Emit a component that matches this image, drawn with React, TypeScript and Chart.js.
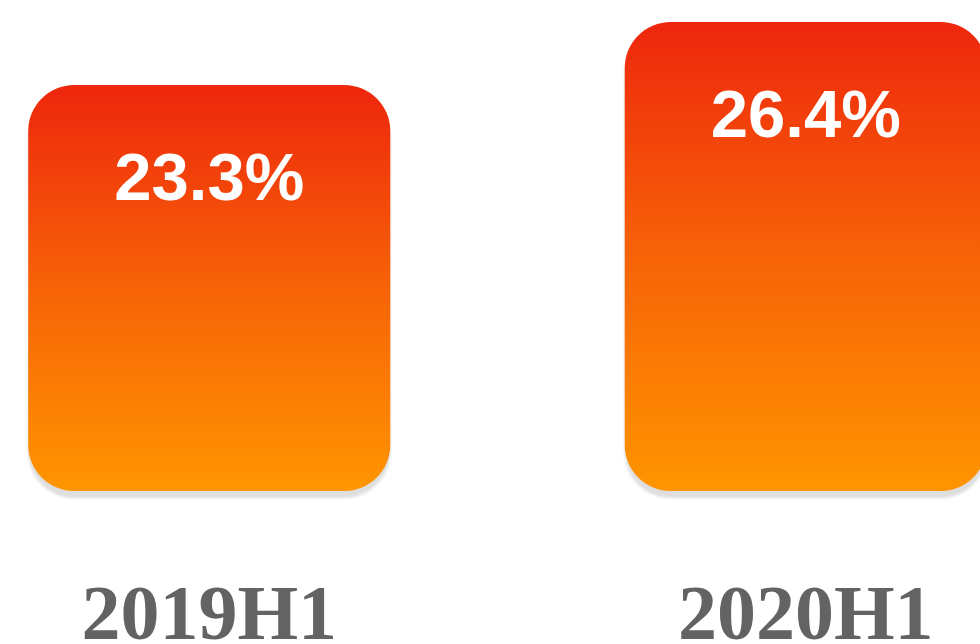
import React, { useEffect, useRef } from "react";
import { Chart, registerables } from "chart.js";

Chart.register(...registerables);

const categories = ["2019H1", "2020H1"];
const shareValues = [23.3, 26.4];
const valueLabels = ["23.3%", "26.4%"];
const yMin = 3.32;
const yMax = 27.48;

const CANVAS_W = 1193;
const CANVAS_H = 644;

export default function App() {
  const ref = useRef<HTMLCanvasElement | null>(null);

  useEffect(() => {
    if (!ref.current) return;

    const shadowPlugin = {
      id: "barShadow",
      beforeDatasetsDraw(chart: any) {
        const ctx = chart.ctx;
        ctx.save();
        ctx.shadowColor = "rgba(0,0,0,0.13)";
        ctx.shadowBlur = 3;
        ctx.shadowOffsetY = 7;
      },
      afterDatasetsDraw(chart: any) {
        chart.ctx.restore();
        const ctx = chart.ctx;
        const meta = chart.getDatasetMeta(0);
        ctx.save();
        ctx.fillStyle = "#ffffff";
        ctx.font = 'bold 67px "Liberation Sans", Arial, Helvetica, sans-serif';
        ctx.textAlign = "center";
        ctx.textBaseline = "alphabetic";
        meta.data.forEach((bar: any, i: number) => {
          ctx.fillText(valueLabels[i], bar.x, bar.y + 115);
        });
        ctx.restore();
      },
    };

    const chart = new Chart(ref.current, {
      type: "bar",
      data: {
        labels: categories,
        datasets: [
          {
            data: shareValues,
            base: yMin,
            clip: false,
            backgroundColor: (c: any) => {
              const ch = c.chart;
              const ys = ch.scales?.y;
              if (!ys || c.parsed == null || !ch.chartArea) return "#f86a06";
              const top = ys.getPixelForValue(c.parsed.y);
              const bottom = ys.getPixelForValue(yMin);
              if (!isFinite(top) || !isFinite(bottom) || top === bottom) return "#f86a06";
              const g = ch.ctx.createLinearGradient(0, top, 0, bottom);
              g.addColorStop(0, "#ee260d");
              g.addColorStop(0.5, "#f76307");
              g.addColorStop(1, "#ff9500");
              return g;
            },
            borderRadius: 46,
            borderSkipped: false,
            categoryPercentage: 1,
            barPercentage: 0.607,
          },
        ],
      },
      options: {
        responsive: false,
        animation: false,
        layout: { padding: 0 },
        plugins: {
          legend: { display: false },
          tooltip: { enabled: false },
        },
        scales: {
          x: {
            grid: { display: false, drawTicks: false },
            border: { display: false },
            ticks: {
              color: "#636363",
              padding: 81,
              font: {
                family: '"Liberation Serif", "Times New Roman", serif',
                weight: "bold",
                size: 78,
              },
            },
            afterFit: (scale: any) => {
              scale.height = 153;
            },
          },
          y: {
            display: false,
            min: yMin,
            max: yMax,
          },
        },
      },
      plugins: [shadowPlugin],
    });

    return () => chart.destroy();
  }, []);

  return (
    <div
      style={{
        position: "fixed",
        left: 0,
        top: 0,
        width: 980,
        height: 644,
        overflow: "hidden",
        background: "#ffffff",
      }}
    >
      <div style={{ position: "absolute", left: -89, top: 0, width: CANVAS_W, height: CANVAS_H }}>
        <canvas ref={ref} width={CANVAS_W} height={CANVAS_H} />
      </div>
    </div>
  );
}
